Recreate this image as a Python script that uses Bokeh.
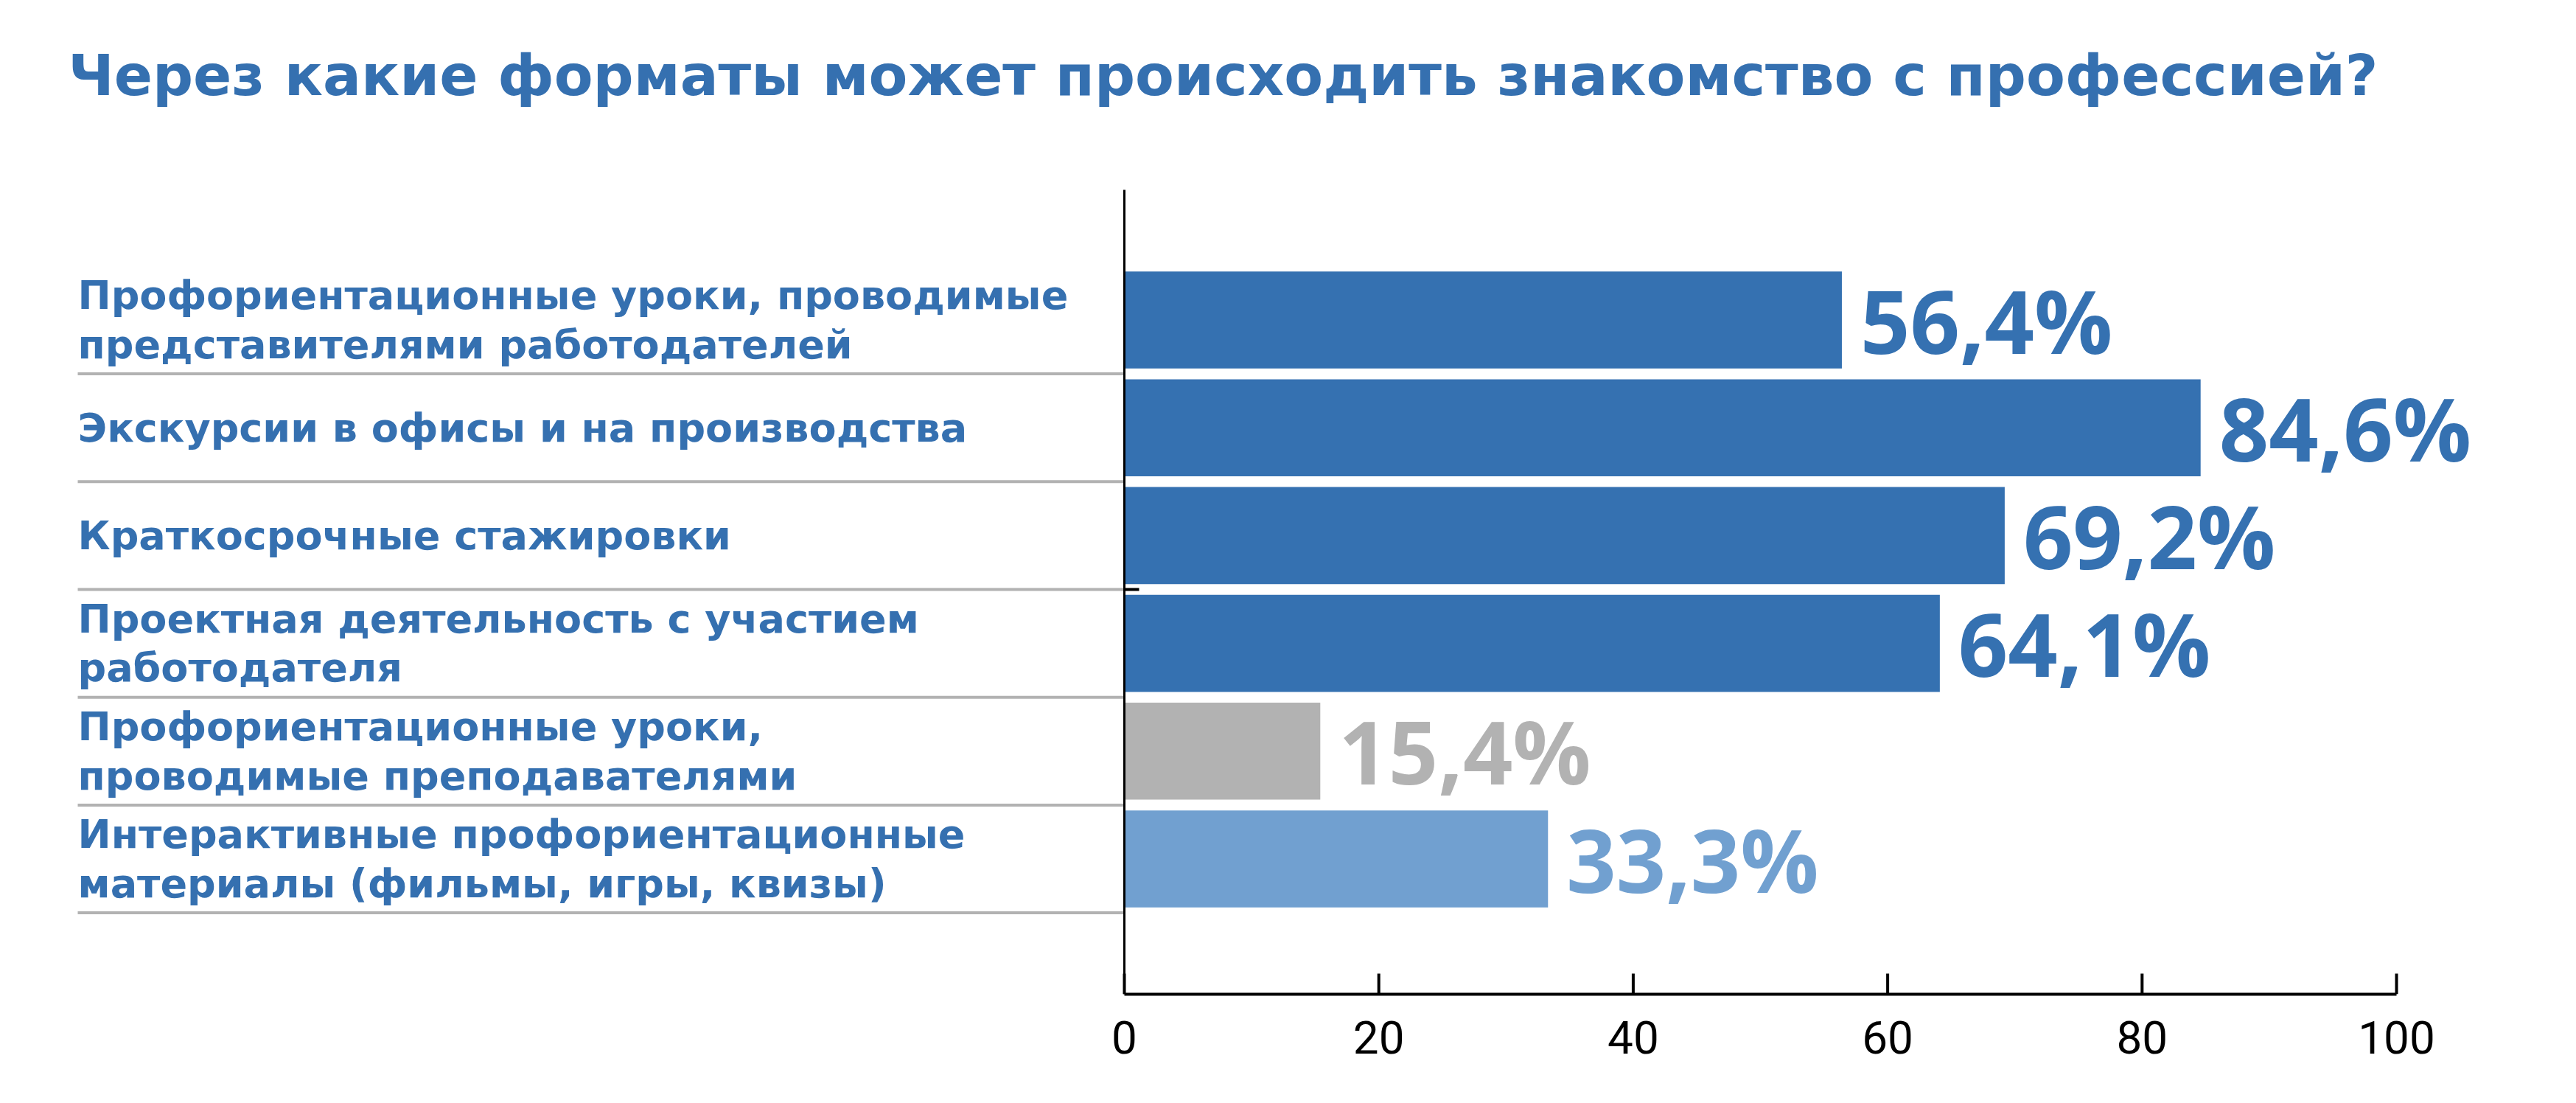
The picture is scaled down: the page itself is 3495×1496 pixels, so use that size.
from bokeh.plotting import figure
from bokeh.models import ColumnDataSource, FixedTicker
from bokeh.core.properties import value
from bokeh.embed import file_html
from bokeh.resources import INLINE

title_text = "Через какие форматы может происходить знакомство с профессией?"
categories = [
    "Профориентационные уроки, проводимые\nпредставителями работодателей",
    "Экскурсии в офисы и на производства",
    "Краткосрочные стажировки",
    "Проектная деятельность с участием\nработодателя",
    "Профориентационные уроки,\nпроводимые преподавателями",
    "Интерактивные профориентационные\nматериалы (фильмы, игры, квизы)",
]
values = [56.4, 84.6, 69.2, 64.1, 15.4, 33.3]
bar_colors = ["#3571B1", "#3571B1", "#3571B1", "#3571B1", "#B2B2B2", "#71A0D0"]
x_ticks = [0, 20, 40, 60, 80, 100]

# ---- layout (pixels) ----
W, H = 3495, 1496
L, R = 95, 3440
BOT = 1348
AXIS_TOP_PX = 257
TITLE_MID_PX = 102
zero_px, hundred_px = 1525, 3251
pitch_px, first_row_px = 146.2, 433.5

scale = (hundred_px - zero_px) / 100.0
x_start = (L - zero_px) / scale
x_end = 100 + (R - hundred_px) / scale

n = len(categories)
ys = [n - 1 - i for i in range(n)]


def y_at(px):
    return (n - 1) + (first_row_px - px) / pitch_px


y_start, y_end = y_at(BOT), y_at(0)
y_axis_top = y_at(AXIS_TOP_PX)

blue = "#3570B0"
src = ColumnDataSource(dict(
    y=ys, v=values, c=bar_colors, cat=categories,
    lbl=[f"{v:.1f}".replace(".", ",") + "%" for v in values],
    sep=[y - 0.5 for y in ys],
))

p = figure(width=W, height=H, x_range=(x_start, x_end), y_range=(y_start, y_end),
           output_backend="svg", toolbar_location=None,
           min_border_left=L, min_border_right=W - R, min_border_top=0,
           min_border_bottom=H - BOT)
p.outline_line_color = None
p.grid.visible = False
p.yaxis.visible = False
p.background_fill_color = "white"
p.border_fill_color = "white"

# title
p.text(x=[x_start - 3 / scale], y=[y_at(TITLE_MID_PX)], text=[title_text], text_color=blue,
       text_font=value("DejaVu Sans"), text_font_style="bold", text_font_size="77px",
       text_baseline="middle", text_align="left")

p.hbar(y="y", right="v", left=0, height=0.9, fill_color="c", line_color=None, source=src)

p.text(x="v", y="y", text="lbl", source=src, x_offset=25, text_color="c",
       text_font=value("Open Sans"), text_font_style="bold", text_font_size="118px",
       text_baseline="middle", text_align="left")

sep_x0 = x_start + 10 / scale
p.segment(x0=sep_x0, x1=0, y0="sep", y1="sep", source=src, line_color="#B2B2B2", line_width=4)

p.text(x=sep_x0, y="y", text="cat", source=src, text_color=blue,
       text_font=value("DejaVu Sans"), text_font_style="bold", text_font_size="54px",
       text_baseline="middle", text_align="left", text_line_height=1.06)

# vertical axis line
p.segment(x0=[0], x1=[0], y0=[y_start], y1=[y_axis_top], line_color="black", line_width=3)
p.segment(x0=[0], x1=[20 / scale], y0=[ys[2] - 0.5], y1=[ys[2] - 0.5], line_color="black", line_width=4)

# inward tick marks on the x axis
p.segment(x0=x_ticks, x1=x_ticks, y0=[y_start] * len(x_ticks),
          y1=[y_start + 28 / pitch_px] * len(x_ticks), line_color="black", line_width=4)

ax = p.xaxis[0]
ax.ticker = FixedTicker(ticks=x_ticks)
ax.bounds = (0, 100)
ax.axis_line_width = 4
ax.axis_line_color = "black"
ax.major_tick_in = 0
ax.major_tick_out = 0
ax.minor_tick_line_color = None
ax.major_label_standoff = 36
ax.major_label_text_font = "Roboto"
ax.major_label_text_font_size = "62px"
ax.major_label_text_color = "black"

open("out.html", "w").write(file_html(p, INLINE))
